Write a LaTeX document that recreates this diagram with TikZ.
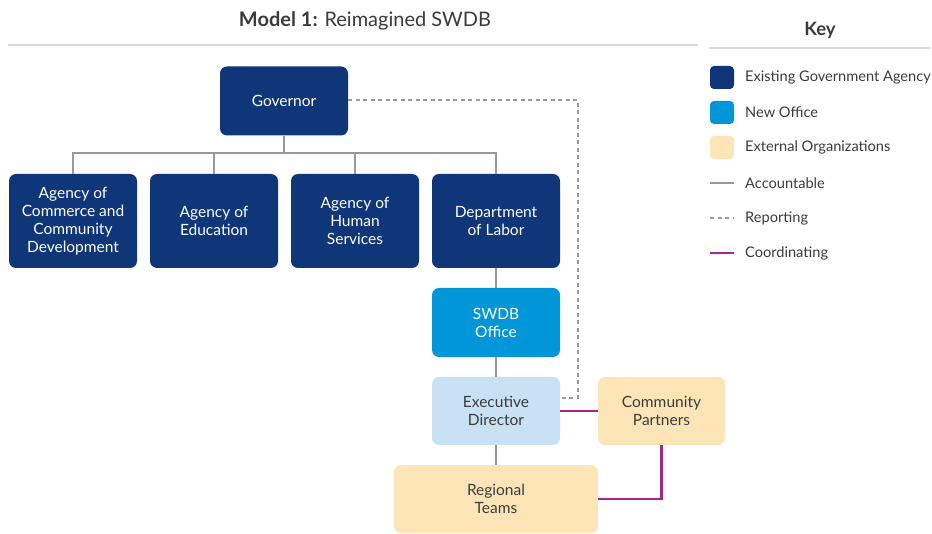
\documentclass[tikz,border=0pt]{standalone}
\usepackage{fontspec}
\setmainfont{Lato}
\definecolor{navy}{HTML}{10367A}
\definecolor{newblue}{HTML}{0096D8}
\definecolor{lightblue}{HTML}{C8E1F5}
\definecolor{beige}{HTML}{FDE5B8}
\definecolor{linegray}{HTML}{999999}
\definecolor{rulegray}{HTML}{DADADA}
\definecolor{coord}{HTML}{A8248E}
\definecolor{txt}{HTML}{3B3B3B}
\tikzset{
  box/.style={rounded corners=7pt, align=center, inner sep=2pt,
    font=\fontsize{15.5}{18}\selectfont, minimum width=128pt, minimum height=69pt},
  govbox/.style={box, fill=navy, text=white},
  newbox/.style={box, fill=newblue, text=white},
  edbox/.style={box, fill=lightblue, text=txt},
  extbox/.style={box, fill=beige, text=txt},
  acct/.style={draw=linegray, line width=2.3pt},
  repline/.style={draw=linegray, line width=2.3pt, dash pattern=on 4pt off 3.5pt},
  coordline/.style={draw=coord, line width=2.3pt},
  swatch/.style={rounded corners=4pt, minimum width=24pt, minimum height=23pt, inner sep=0pt},
  keytext/.style={anchor=west, text=txt, font=\fontsize{14.6}{17}\selectfont, inner sep=0pt}
}
\begin{document}
\begin{tikzpicture}[x=1pt,y=-1pt]
\useasboundingbox (0,0) rectangle (932,534);
% title
\node[text=txt, font=\fontsize{20}{24}\selectfont] (title) at (365,21) {\textbf{Model 1:} Reimagined SWDB};
\draw[rulegray, line width=1.3pt] (8,45) -- (698,45);
% key
\node[text=txt, font=\fontsize{18.5}{22}\bfseries] (keytitle) at (820,30) {Key};
\draw[rulegray, line width=1.3pt] (709,48) -- (930,48);
\node[swatch, fill=navy] (k1) at (722,77.5) {};
\node[keytext] (k1t) at (745,77.5) {Existing Government Agency};
\node[swatch, fill=newblue] (k2) at (722,112.5) {};
\node[keytext] (k2t) at (745,112.5) {New Office};
\node[swatch, fill=beige] (k3) at (722,147.5) {};
\node[keytext] (k3t) at (745,147.5) {External Organizations};
\coordinate (k4a) at (710,183); \coordinate (k4b) at (734,183);
\draw[acct] (k4a) -- (k4b);
\node[keytext] (k4t) at (745,183) {Accountable};
\coordinate (k5a) at (710,218); \coordinate (k5b) at (734,218);
\draw[repline] (k5a) -- (k5b);
\node[keytext] (k5t) at (745,218) {Reporting};
\coordinate (k6a) at (710,253); \coordinate (k6b) at (734,253);
\draw[coordline] (k6a) -- (k6b);
\node[keytext] (k6t) at (745,253) {Coordinating};
% boxes
\node[govbox] (gov) at (284,101) {Governor};
\node[govbox, minimum height=94pt] (acc) at (73,221) {Agency of\\Commerce and\\Community\\Development};
\node[govbox, minimum height=94pt] (edu) at (214,221) {Agency of\\Education};
\node[govbox, minimum height=94pt] (hum) at (355,221) {Agency of\\Human\\Services};
\node[govbox, minimum height=94pt] (dol) at (496,221) {Department\\of Labor};
\node[newbox] (swdb) at (496,322.5) {SWDB\\Office};
\node[edbox, minimum height=68pt] (exec) at (496,411) {Executive\\Director};
\node[extbox, minimum height=68pt, minimum width=127pt] (cp) at (661.5,411) {Community\\Partners};
\node[extbox, minimum height=68pt, minimum width=204pt] (rt) at (496,499) {Regional\\Teams};
% accountable connectors
\coordinate (bar) at (284,153);
\draw[acct] (gov.south) -- (bar);
\draw[acct] (acc.north) -- (acc.north |- bar) -- (dol.north |- bar) -- (dol.north);
\draw[acct] (edu.north) -- (edu.north |- bar);
\draw[acct] (hum.north) -- (hum.north |- bar);
\draw[acct] (dol.south) -- (swdb.north);
\draw[acct] (swdb.south) -- (exec.north);
\draw[acct] (exec.south) -- (rt.north);
% reporting
\coordinate (dcorner) at (578,100);
\draw[repline] (gov.east |- dcorner) -- (dcorner) |- ([yshift=13pt]exec.east);
% coordinating
\draw[coordline] (exec.east) -- (cp.west);
\draw[coordline] (cp.south) |- (rt.east);
\end{tikzpicture}
\end{document}
